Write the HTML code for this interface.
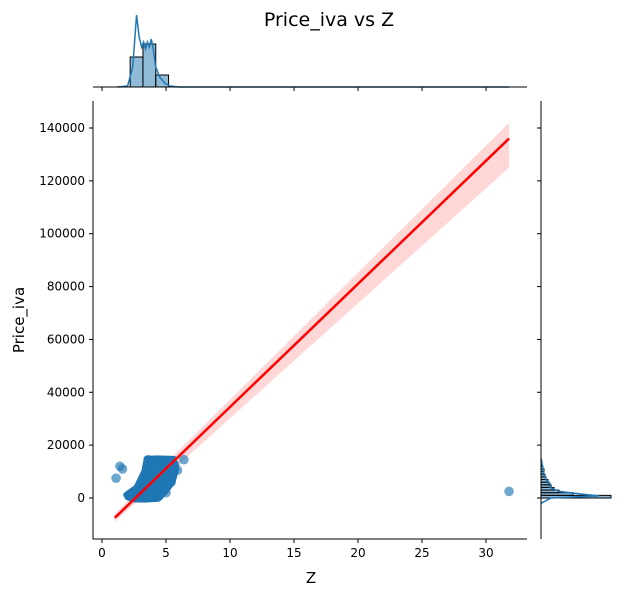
<!DOCTYPE html>
<html><head><meta charset="utf-8">
<style>
body{margin:0;background:#fff;}
svg text{font-family:"DejaVu Sans","Liberation Sans",sans-serif;fill:#000;}
</style></head>
<body>
<svg id="chart" width="624" height="596" viewBox="0 0 624 596" xmlns="http://www.w3.org/2000/svg">
<text x="329" y="26" font-size="19" text-anchor="middle">Price_iva vs Z</text>
<g id="main"></g>
<g id="top"></g>
<g id="right"></g>
</svg>
<script>
const xTicks=[0,5,10,15,20,25,30];
const yTicks=[0,20000,40000,60000,80000,100000,120000,140000];
const scatterZ=[1.1,1.4,1.6,6.4,31.8,2.2,2.5,2.9,3.3,3.8,4.3,4.6,5.0,5.4,5.7,4.5,3.6,2.7,5.5,4.9,3.5,2.3,5.9];
const scatterPrice=[7500,12000,11000,14500,2500,1200,600,300,500,1000,800,2500,2000,6000,12500,1000,14500,3000,13000,9000,8000,1800,10500];
const blobZ=[2.0,2.4,3.4,4.4,4.9,5.5,5.8,5.6,4.3,3.5,3.3,2.7,1.9];
const blobPrice=[300,-500,-600,-300,2200,6000,11000,14800,15000,14800,10000,4000,1200];
const regZ=[1.0,31.8];
const regPrice=[-7500,136000];
const bandLo=[-9000,125000];
const bandHi=[-6000,142000];
const histEdges=[2.2,3.2,4.2,5.2];
const histCounts=[30,43,12];
const kdeZ=[1.2,2.0,2.4,2.7,2.9,3.1,3.25,3.4,3.55,3.7,3.85,4.0,4.2,4.5,4.9,5.3,6,31.8];
const kdeD=[0,1,20,72,50,40,45,38,45,40,48,38,20,10,4,1,0,0];
const rEdges=[-1000,0,1000,2000,3000,4000,5000,6000,7000,8000,9000,10000,11000,12000,13000,14000];
const rCounts=[0,70,32,18,13,10,8,7,5,4,3,3,2,1,1];
const rkdeP=[-2000,0,800,1500,2500,4000,5500,7000,9000,11000,13000,15000];
const rkdeD=[0,10,58,40,18,9,9,5,3,2,1,0];

const X=v=>102+v*12.8;
const Y=v=>498-v*(370/140000);
const NS="http://www.w3.org/2000/svg";
function mk(p,tag,attrs){const e=document.createElementNS(NS,tag);for(const k in attrs)e.setAttribute(k,attrs[k]);p.appendChild(e);return e;}
const main=document.getElementById('main'),top_=document.getElementById('top'),right=document.getElementById('right');

let bp=`M${X(regZ[0])},${Y(bandLo[0])} L${X(regZ[1])},${Y(bandLo[1])} L${X(regZ[1])},${Y(bandHi[1])} L${X(regZ[0])},${Y(bandHi[0])}Z`;
let band=mk(main,'path',{d:bp,fill:'#ffb0b0',opacity:0.5});


let bd=blobZ.map((z,i)=>(i?'L':'M')+X(z)+','+Y(blobPrice[i])).join(' ')+'Z';
let blob=mk(main,'path',{d:bd,fill:'#1f77b4',stroke:'#1f77b4','stroke-width':6,'stroke-linejoin':'round'});


scatterZ.forEach((z,i)=>{
 let c=mk(main,'circle',{cx:X(z),cy:Y(scatterPrice[i]),r:4.8,fill:'#1f77b4','fill-opacity':0.65});
 
 
});
let rl=mk(main,'line',{x1:X(regZ[0]),y1:Y(regPrice[0]),x2:X(regZ[1]),y2:Y(regPrice[1]),stroke:'#ff0000','stroke-width':2.5});


mk(main,'line',{x1:93,y1:101,x2:93,y2:539.5,stroke:'#000','stroke-width':1});
mk(main,'line',{x1:92.5,y1:539,x2:527,y2:539,stroke:'#000','stroke-width':1});
xTicks.forEach(t=>{mk(main,'line',{x1:X(t),y1:539,x2:X(t),y2:543,stroke:'#000'});
 let tx=mk(main,'text',{x:X(t),y:557,'font-size':12,'text-anchor':'middle'});tx.textContent=t;
 
 
 mk(top_,'line',{x1:X(t),y1:87,x2:X(t),y2:91,stroke:'#000'});
});
yTicks.forEach(t=>{mk(main,'line',{x1:89,y1:Y(t),x2:93,y2:Y(t),stroke:'#000'});
 let tx=mk(main,'text',{x:85,y:Y(t)+4,'font-size':12,'text-anchor':'end'});tx.textContent=t;
 
 
 mk(right,'line',{x1:537,y1:Y(t),x2:541,y2:Y(t),stroke:'#000'});
});
let xl=mk(main,'text',{x:311,y:583,'font-size':15,'text-anchor':'middle'});xl.textContent='Z';


let yl=mk(main,'text',{x:24,y:320,'font-size':15,'text-anchor':'middle',transform:'rotate(-90 24 320)'});yl.textContent='Price_iva';



const TB=87,TS=1.0;
for(let i=0;i<histCounts.length;i++){
 let r=mk(top_,'rect',{x:X(histEdges[i]),y:TB-histCounts[i]*TS,width:X(histEdges[i+1])-X(histEdges[i]),height:histCounts[i]*TS,fill:'#1f77b4','fill-opacity':0.5,stroke:'#000','stroke-width':1});
 
 
}
let kd=kdeZ.map((z,i)=>(i?'L':'M')+X(z)+','+(TB-kdeD[i])).join(' ');
let kp=mk(top_,'path',{d:kd,fill:'none',stroke:'#1f77b4','stroke-width':1.5});


mk(top_,'line',{x1:93,y1:87,x2:527,y2:87,stroke:'#000'});

const RB=541,RS=1.0;
for(let i=0;i<rCounts.length;i++){
 let y1=Y(rEdges[i+1]),y0=Y(rEdges[i]);
 let r=mk(right,'rect',{x:RB,y:y1,width:rCounts[i]*RS,height:y0-y1,fill:'#1f77b4','fill-opacity':0.5,stroke:'#000','stroke-width':1});
 
 
}
let rk=rkdeP.map((p,i)=>(i?'L':'M')+(RB+rkdeD[i])+','+Y(p)).join(' ');
let rp=mk(right,'path',{d:rk,fill:'none',stroke:'#1f77b4','stroke-width':1.5});


mk(right,'line',{x1:541,y1:101,x2:541,y2:539,stroke:'#000'});
</script>
</body></html>
